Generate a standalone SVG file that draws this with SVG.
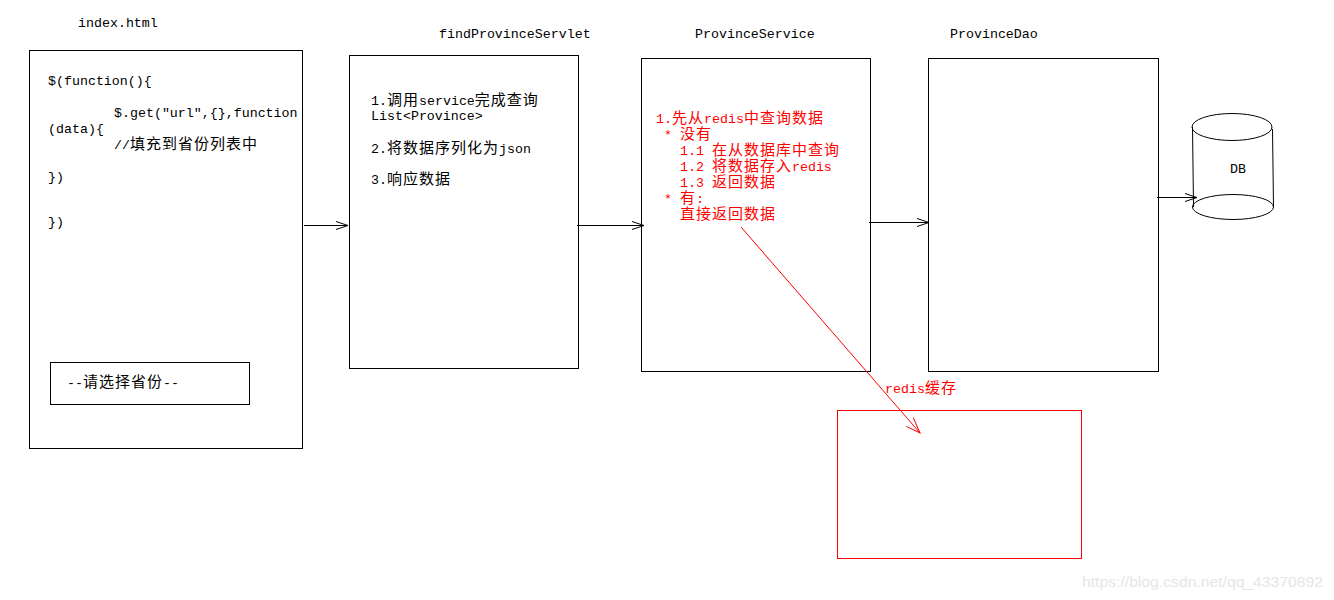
<svg xmlns="http://www.w3.org/2000/svg" width="1334" height="600" viewBox="0 0 1334 600">
<style>
.box{fill:#fff;stroke:#000;stroke-width:1}
.rbox{fill:#fff;stroke:#f00;stroke-width:1}
.t{font-family:"Liberation Mono",monospace;font-size:13.3px;fill:#000}
.c{font-family:"Noto Sans CJK SC",sans-serif;font-size:15px;letter-spacing:1px}
.r{fill:#f00}
.ln{stroke:#000;stroke-width:1;fill:none}
.rln{stroke:#f00;stroke-width:1;fill:none}
.wm{font-family:"Liberation Sans",Arial,sans-serif;font-size:15px;fill:#e6e6e6}
</style>
<defs>
<marker id="ah" markerUnits="userSpaceOnUse" markerWidth="16" markerHeight="12" refX="13" refY="6" orient="auto" overflow="visible">
<path d="M1,2 L13,6 L1,10" fill="none" stroke="#000" stroke-width="1"/>
</marker>
<marker id="rah" markerUnits="userSpaceOnUse" markerWidth="20" markerHeight="14" refX="16" refY="7" orient="auto" overflow="visible">
<path d="M0,2 L16,7 L2,13" fill="none" stroke="#f00" stroke-width="1"/>
</marker>
</defs>
<rect width="1334" height="600" fill="#fff"/>

<g id="index-html">
<text class="t" x="78" y="27">index.html</text>
<rect class="box" x="29.5" y="50.5" width="273" height="398"/>
<text class="t" x="48" y="85">$(function(){</text>
<text class="t" x="114" y="117">$.get("url",{},function</text>
<text class="t" x="48" y="133">(data){</text>
<text class="t" x="114" y="149">//<tspan class="c">填充到省份列表中</tspan></text>
<text class="t" x="48" y="181">})</text>
<text class="t" x="48" y="226">})</text>
<g id="select">
<rect class="box" x="50.5" y="362.5" width="199" height="42"/>
<text class="t" x="67" y="387">--<tspan class="c">请选择省份</tspan>--</text>
</g>
</g>

<g id="findProvinceServlet">
<text class="t" x="439" y="38">findProvinceServlet</text>
<rect class="box" x="349.5" y="55.5" width="229" height="313"/>
<text class="t" x="371" y="105">1.<tspan class="c">调用</tspan>service<tspan class="c">完成查询</tspan></text>
<text class="t" x="371" y="120">List&lt;Province&gt;</text>
<text class="t" x="371" y="153">2.<tspan class="c">将数据序列化为</tspan>json</text>
<text class="t" x="371" y="184">3.<tspan class="c">响应数据</tspan></text>
</g>

<g id="ProvinceService">
<text class="t" x="695" y="38">ProvinceService</text>
<rect class="box" x="641.5" y="58.5" width="229" height="313"/>
<text class="t r" x="656" y="123">1.<tspan class="c">先从</tspan>redis<tspan class="c">中查询数据</tspan></text>
<text class="t r" x="664" y="139">*<tspan class="c" x="680">没有</tspan></text>
<text class="t r" x="680" y="155">1.1 <tspan class="c">在从数据库中查询</tspan></text>
<text class="t r" x="680" y="171">1.2 <tspan class="c">将数据存入</tspan>redis</text>
<text class="t r" x="680" y="187">1.3 <tspan class="c">返回数据</tspan></text>
<text class="t r" x="664" y="203">*<tspan class="c" x="680">有</tspan>:</text>
<text class="t r" x="680" y="219"><tspan class="c">直接返回数据</tspan></text>
</g>

<g id="ProvinceDao">
<text class="t" x="950" y="38">ProvinceDao</text>
<rect class="box" x="928.5" y="58.5" width="230" height="313"/>
</g>

<g id="DB">
<path class="ln" d="M1192.5,127 L1193.5,207 M1272.5,129 L1273.5,207"/>
<ellipse class="ln" cx="1233" cy="207" rx="40.5" ry="12.5"/>
<ellipse class="ln" cx="1232" cy="127" rx="40" ry="13.5"/>
<text class="t" x="1230" y="173">DB</text>
</g>

<g id="redis-cache">
<text class="t r" x="885" y="393">redis<tspan class="c">缓存</tspan></text>
<rect class="rbox" x="837.5" y="410.5" width="244" height="148"/>
</g>

<g id="connectors">
<path class="ln" d="M304,225.5 H348" marker-end="url(#ah)"/>
<path class="ln" d="M577,225.5 H644" marker-end="url(#ah)"/>
<path class="ln" d="M869,222.5 H929" marker-end="url(#ah)"/>
<path class="ln" d="M1157,197.5 H1197" marker-end="url(#ah)"/>
<path class="rln" d="M741,227 L920,433" marker-end="url(#rah)"/>
</g>

<text class="wm" x="1082" y="587" textLength="241" lengthAdjust="spacingAndGlyphs">https://blog.csdn.net/qq_43370892</text>
</svg>
